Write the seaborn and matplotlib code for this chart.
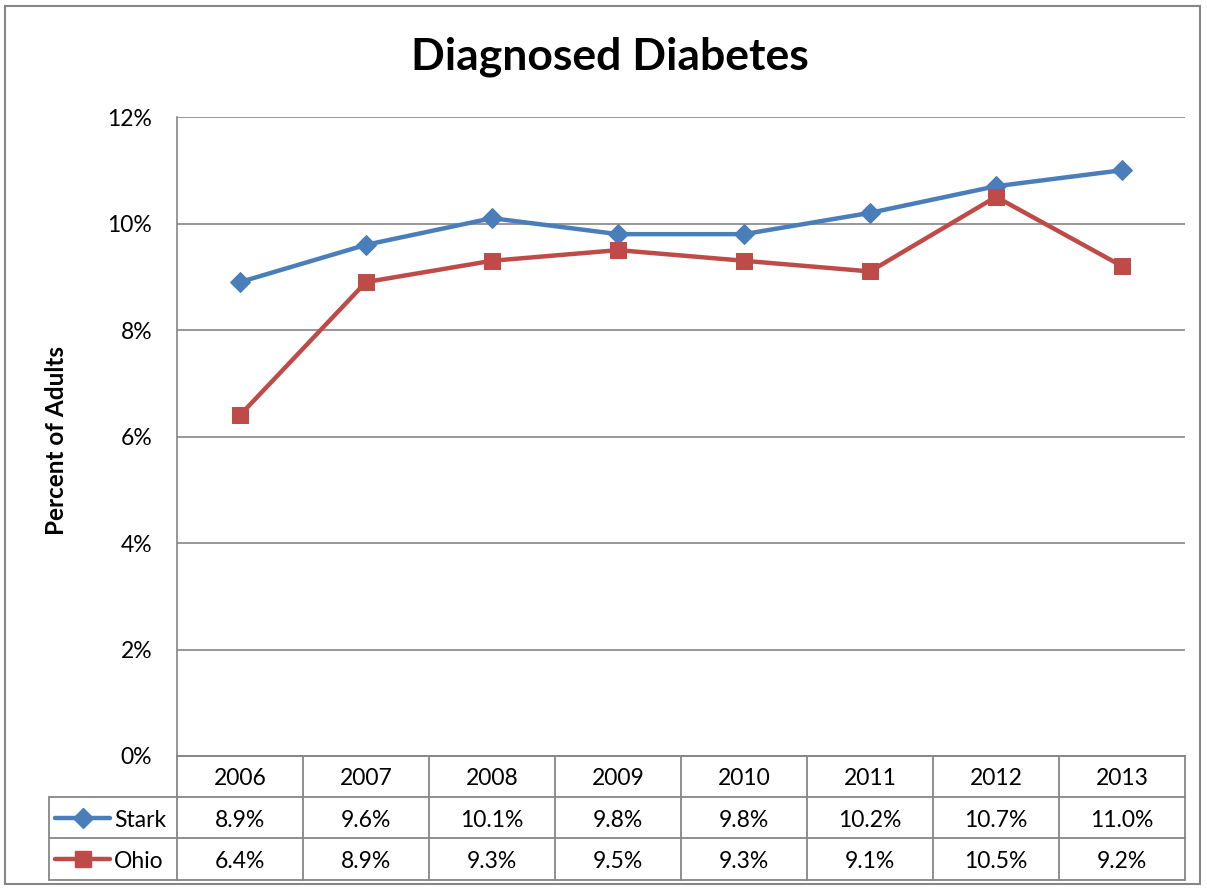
import matplotlib
matplotlib.use("Agg")
import matplotlib.pyplot as plt
import seaborn as sns
import numpy as np
import pandas as pd
from matplotlib.patches import Rectangle
from matplotlib.lines import Line2D

years = ["2006", "2007", "2008", "2009", "2010", "2011", "2012", "2013"]
stark = [8.9, 9.6, 10.1, 9.8, 9.8, 10.2, 10.7, 11.0]
ohio = [6.4, 8.9, 9.3, 9.5, 9.3, 9.1, 10.5, 9.2]
series_names = ["Stark", "Ohio"]
yticks = [0, 2, 4, 6, 8, 10, 12]

sns.set_theme(style="white")
plt.rcParams["font.family"] = ["Lato", "DejaVu Sans"]

W, H = 1207, 888
fig = plt.figure(figsize=(W / 100, H / 100), dpi=100)
L, R, T, B = 177, 1185, 117, 756
ax = fig.add_axes([L / W, 1 - B / H, (R - L) / W, (B - T) / H])

blue = "#4A7EBB"
red = "#BE4B48"
grid_c = "#868686"
FS = 16.5

xs = np.arange(len(years))
df = pd.DataFrame({"x": np.concatenate([xs, xs]),
                   "v": stark + ohio,
                   "s": [series_names[0]] * len(years) + [series_names[1]] * len(years)})

sns.lineplot(data=df[df.s == "Stark"], x="x", y="v", ax=ax, color=blue, lw=3.2,
             marker="D", markersize=10, markeredgecolor=blue, sort=False, legend=False)
sns.lineplot(data=df[df.s == "Ohio"], x="x", y="v", ax=ax, color=red, lw=3.2,
             marker="s", markersize=12, markeredgecolor=red, sort=False, legend=False)

ax.set_xlim(-0.5, len(years) - 0.5)
ax.set_ylim(0, 12)
ax.set_yticks(yticks)
ax.set_yticklabels([f"{t}%" for t in yticks], fontsize=FS, color="black")
ax.set_xticks([])
ax.set_xlabel("")
ax.set_ylabel("")
ax.tick_params(axis="y", length=0, pad=18)
for y in yticks[1:]:
    ax.axhline(y, color=grid_c, lw=1.2, zorder=0)
for sp in ["top", "right"]:
    ax.spines[sp].set_visible(False)
ax.spines["left"].set_color(grid_c)
ax.spines["left"].set_linewidth(1.2)
ax.spines["bottom"].set_color(grid_c)
ax.spines["bottom"].set_linewidth(1.2)

# title and y label
fig.text(610 / W, 1 - 57 / H, "Diagnosed Diabetes", fontsize=32, fontweight="bold",
         ha="center", va="center", color="black")
fig.text(57 / W, 1 - 440 / H, "Percent of Adults", fontsize=17.5, fontweight="bold",
         ha="center", va="center", rotation=90, color="black")

# data table
def fx(px):
    return px / W

def fy(py):
    return 1 - py / H

rows_y = [756, 797, 838, 880]
colx = [L + 126 * k for k in range(len(years) + 1)]
lk = dict(color=grid_c, lw=1.3, transform=fig.transFigure)
fig.add_artist(Line2D([fx(L), fx(R)], [fy(756), fy(756)], **lk))
for yy in rows_y[1:]:
    fig.add_artist(Line2D([fx(49), fx(R)], [fy(yy), fy(yy)], **lk))
for xx in colx:
    fig.add_artist(Line2D([fx(xx), fx(xx)], [fy(756), fy(880)], **lk))
fig.add_artist(Line2D([fx(49), fx(49)], [fy(797), fy(880)], **lk))

for i, yr in enumerate(years):
    cx = L + 126 * i + 63
    fig.text(fx(cx), fy(778), yr, fontsize=FS, ha="center", va="center", color="black")
    fig.text(fx(cx), fy(820), f"{stark[i]:.1f}%", fontsize=FS, ha="center", va="center", color="black")
    fig.text(fx(cx), fy(861), f"{ohio[i]:.1f}%", fontsize=FS, ha="center", va="center", color="black")

for name, col, mk, ms, yy in [(series_names[0], blue, "D", 10, 818), (series_names[1], red, "s", 12, 859)]:
    fig.add_artist(Line2D([fx(55), fx(110)], [fy(yy), fy(yy)], color=col, lw=3.2,
                          transform=fig.transFigure))
    fig.add_artist(Line2D([fx(83)], [fy(yy)], color=col, marker=mk, markersize=ms,
                          markeredgecolor=col, transform=fig.transFigure))
    fig.text(fx(114), fy(yy + 2), name, fontsize=FS, ha="left", va="center", color="black")

# outer frame
fig.add_artist(Rectangle((fx(5), fy(884)), fx(1200) - fx(5), fy(6) - fy(884),
                         fill=False, edgecolor=grid_c, lw=1.5, transform=fig.transFigure))

fig.savefig("out.png", dpi=100)
